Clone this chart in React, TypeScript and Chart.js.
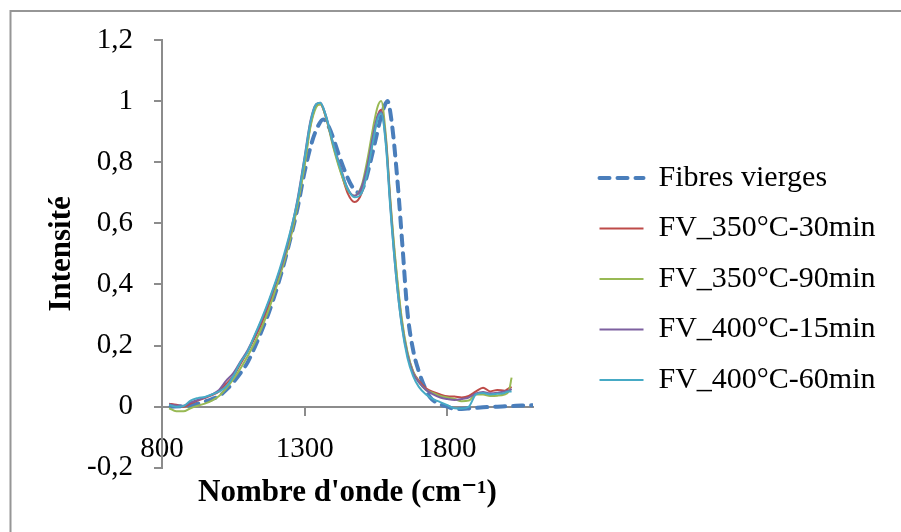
import React, { useEffect, useRef } from "react";
import { Chart, registerables } from "chart.js";

Chart.register(...registerables);

const FONT = "'Times New Roman', 'Liberation Serif', 'DejaVu Serif', serif";
const AXIS = "#8c8c8c";

// Tick values
const xTicks = [800, 1300, 1800];
const yTicks = [-0.2, 0, 0.2, 0.4, 0.6, 0.8, 1, 1.2];

// Series labels
const seriesLabels = [
  "Fibres vierges",
  "FV_350°C-30min",
  "FV_350°C-90min",
  "FV_400°C-15min",
  "FV_400°C-60min",
];

// Fibres vierges (wavenumber, intensity)
const fibresX = [830, 875, 925, 975, 1000, 1025, 1050, 1075, 1100, 1125, 1150, 1175, 1200, 1225, 1250, 1275, 1300, 1325, 1345, 1365, 1385, 1405, 1425, 1450, 1470, 1490, 1510, 1530, 1550, 1565, 1578, 1590, 1605, 1625, 1643, 1660, 1680, 1700, 1720, 1740, 1765, 1800, 1830, 1870, 1925, 1975, 2025, 2060, 2100];
const fibresY = [0.0, 0.002, 0.01, 0.025, 0.035, 0.055, 0.08, 0.11, 0.145, 0.195, 0.25, 0.31, 0.38, 0.46, 0.55, 0.65, 0.77, 0.865, 0.915, 0.94, 0.915, 0.865, 0.81, 0.75, 0.715, 0.7, 0.73, 0.8, 0.88, 0.94, 0.98, 1.0, 0.93, 0.74, 0.52, 0.31, 0.185, 0.115, 0.065, 0.03, 0.012, 0.0, -0.008, -0.006, -0.002, 0.0, 0.002, 0.004, 0.005];

// Shared wavenumbers for the treated samples
const treatedX = [825, 850, 875, 900, 925, 950, 975, 1000, 1025, 1050, 1075, 1100, 1125, 1150, 1175, 1200, 1225, 1250, 1275, 1300, 1320, 1340, 1355, 1375, 1400, 1425, 1450, 1475, 1500, 1520, 1540, 1555, 1568, 1585, 1600, 1620, 1640, 1660, 1680, 1700, 1725, 1750, 1775, 1800, 1825, 1850, 1875, 1900, 1925, 1950, 1975, 2000, 2015, 2025];

const fv350_30 = [0.01, 0.006, 0.0, 0.01, 0.02, 0.028, 0.038, 0.05, 0.075, 0.1, 0.14, 0.18, 0.225, 0.275, 0.335, 0.4, 0.47, 0.555, 0.665, 0.8, 0.92, 0.985, 0.99, 0.945, 0.855, 0.775, 0.7, 0.67, 0.7, 0.775, 0.875, 0.95, 0.972, 0.87, 0.67, 0.45, 0.28, 0.175, 0.115, 0.085, 0.06, 0.048, 0.04, 0.034, 0.033, 0.03, 0.035, 0.05, 0.062, 0.05, 0.055, 0.052, 0.06, 0.065];
const fv350_90 = [-0.005, -0.015, -0.015, -0.005, 0.003, 0.01, 0.02, 0.035, 0.06, 0.09, 0.125, 0.165, 0.21, 0.26, 0.32, 0.39, 0.465, 0.55, 0.66, 0.79, 0.915, 0.98, 0.99, 0.945, 0.85, 0.77, 0.71, 0.69, 0.725, 0.81, 0.915, 0.98, 1.0, 0.88, 0.68, 0.46, 0.29, 0.18, 0.115, 0.08, 0.055, 0.045, 0.035, 0.03, 0.025, 0.018, 0.02, 0.04, 0.04, 0.035, 0.036, 0.04, 0.05, 0.095];
const fv400_15 = [0.008, 0.004, 0.003, 0.014, 0.022, 0.03, 0.04, 0.055, 0.085, 0.11, 0.148, 0.185, 0.232, 0.285, 0.345, 0.41, 0.48, 0.57, 0.68, 0.82, 0.935, 0.99, 0.995, 0.95, 0.86, 0.785, 0.715, 0.69, 0.72, 0.79, 0.89, 0.95, 0.965, 0.86, 0.66, 0.43, 0.27, 0.17, 0.11, 0.08, 0.055, 0.04, 0.03, 0.025, 0.022, 0.025, 0.03, 0.043, 0.048, 0.044, 0.046, 0.05, 0.052, 0.058];
const fv400_60 = [0.006, 0.0, 0.002, 0.02, 0.028, 0.032, 0.04, 0.05, 0.066, 0.1, 0.145, 0.18, 0.235, 0.29, 0.35, 0.415, 0.49, 0.575, 0.675, 0.815, 0.93, 0.99, 0.995, 0.95, 0.86, 0.78, 0.715, 0.685, 0.7, 0.77, 0.87, 0.94, 0.96, 0.85, 0.65, 0.43, 0.265, 0.16, 0.1, 0.065, 0.04, 0.025, 0.015, 0.005, -0.005, -0.006, 0.0, 0.04, 0.045, 0.04, 0.042, 0.045, 0.05, 0.05];

const colors = ["#4A7EBB", "#BE4B48", "#98B954", "#7D60A0", "#46AAC5"];

export default function App() {
  const ref = useRef<HTMLCanvasElement>(null);

  useEffect(() => {
    if (!ref.current) return;
    const toPts = (xs: number[], ys: number[]) => xs.map((x, i) => ({ x, y: ys[i] }));

    const frame = {
      id: "frame",
      beforeDraw(chart: any) {
        const ctx = chart.ctx;
        ctx.save();
        ctx.strokeStyle = "#969696";
        ctx.lineWidth = 2;
        ctx.strokeRect(10.5, 11, 2000, 2000);
        ctx.restore();
      },
    };

    const solid = (idx: number, ys: number[], order: number) => ({
      label: seriesLabels[idx],
      data: toPts(treatedX, ys),
      borderColor: colors[idx],
      backgroundColor: colors[idx],
      borderWidth: 2,
      pointRadius: 0,
      cubicInterpolationMode: "monotone" as const,
      order,
    });

    const chart = new Chart(ref.current, {
      type: "line",
      data: {
        datasets: [
          {
            label: seriesLabels[0],
            data: toPts(fibresX, fibresY),
            borderColor: colors[0],
            backgroundColor: colors[0],
            borderWidth: 4,
            borderDash: [10, 8],
            borderCapStyle: "round",
            pointRadius: 0,
            cubicInterpolationMode: "monotone",
            order: 5,
          },
          solid(1, fv350_30, 4),
          solid(2, fv350_90, 3),
          solid(3, fv400_15, 2),
          solid(4, fv400_60, 1),
        ],
      },
      options: {
        responsive: false,
        animation: false,
        layout: { padding: { top: 40, right: 22, bottom: 14, left: 0 } },
        scales: {
          x: {
            type: "linear",
            position: { y: 0 } as any,
            min: 800,
            max: 2100,
            afterBuildTicks: (s: any) => {
              s.ticks = xTicks.map((v) => ({ value: v }));
            },
            grid: { display: true, drawOnChartArea: false, drawTicks: true, tickLength: 8, color: AXIS, lineWidth: 2 },
            border: { display: true, color: AXIS, width: 2 },
            ticks: {
              font: { family: FONT, size: 29 },
              color: "#000",
              padding: 17,
              maxRotation: 0,
              autoSkip: false,
              callback: (v: any) => String(v),
            },
          },
          y: {
            type: "linear",
            position: "left",
            min: -0.2,
            max: 1.2,
            afterBuildTicks: (s: any) => {
              s.ticks = yTicks.map((v) => ({ value: v }));
            },
            afterFit: (s: any) => {
              s.width = 162;
            },
            grid: { display: true, drawOnChartArea: false, drawTicks: true, tickLength: 8, color: AXIS, lineWidth: 2 },
            border: { display: true, color: AXIS, width: 2 },
            ticks: {
              font: { family: FONT, size: 29 },
              color: "#000",
              padding: 21,
              callback: (v: any) => String(Math.round(Number(v) * 10) / 10).replace(".", ","),
            },
            title: {
              display: true,
              text: "Intensité",
              color: "#000",
              font: { family: FONT, size: 31, weight: "bold" },
              padding: { top: 43, bottom: 0 },
            },
          },
          y2: {
            type: "linear",
            position: "right",
            display: true,
            grid: { display: false, drawTicks: false },
            border: { display: false },
            ticks: { display: false },
            afterFit: (s: any) => {
              s.width = 46;
            },
          },
        },
        plugins: {
          legend: {
            display: true,
            position: "right",
            align: "center",
            maxWidth: 300,
            labels: {
              usePointStyle: true,
              pointStyle: "line",
              pointStyleWidth: 44,
              padding: 20.5,
              color: "#000",
              font: { family: FONT, size: 30 },
              sort: (a: any, b: any) => a.datasetIndex - b.datasetIndex,
              generateLabels: (c: any) => {
                const items = (Chart.defaults.plugins.legend.labels as any).generateLabels(c);
                items.forEach((it: any) => {
                  const ds = c.data.datasets[it.datasetIndex];
                  it.lineDash = ds.borderDash || [];
                  it.lineCap = ds.borderCapStyle || "butt";
                  it.lineWidth = ds.borderWidth;
                  it.strokeStyle = ds.borderColor;
                });
                return items;
              },
            },
          },
          title: {
            display: true,
            position: "bottom",
            fullSize: false,
            text: "Nombre d'onde (cm⁻¹)",
            color: "#000",
            font: { family: FONT, size: 31, weight: "bold" },
            padding: { top: 7, bottom: 6 },
          },
          tooltip: { enabled: false },
        },
      } as any,
      plugins: [frame],
    });
    return () => chart.destroy();
  }, []);

  return (
    <div style={{ position: "absolute", left: 0, top: 0, width: 901, height: 532, background: "#fff" }}>
      <canvas ref={ref} width={901} height={532} style={{ display: "block" }} />
    </div>
  );
}
